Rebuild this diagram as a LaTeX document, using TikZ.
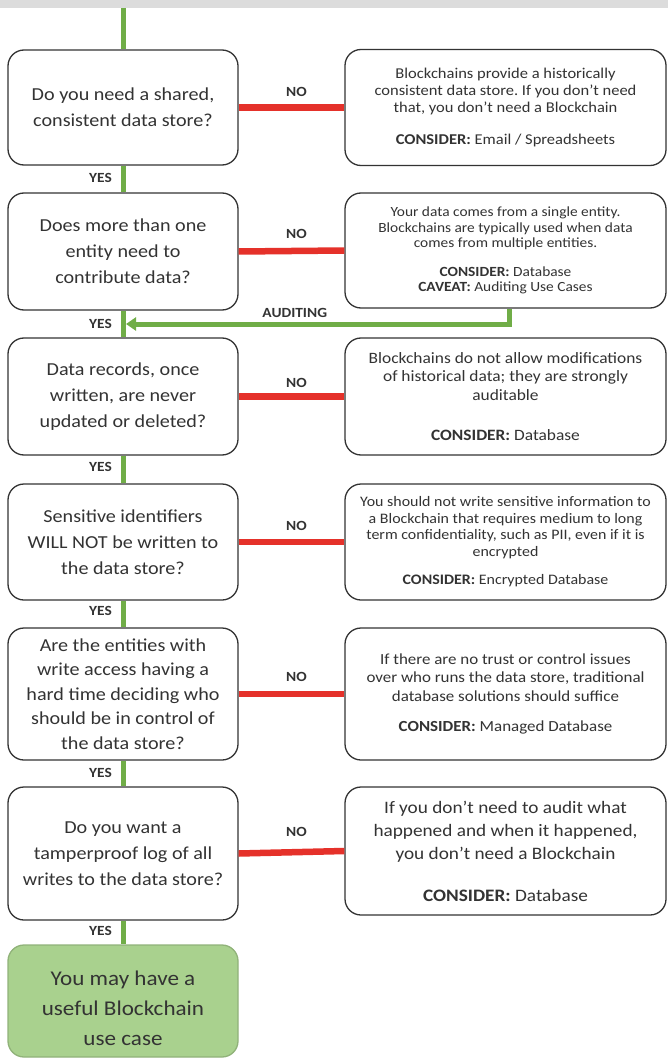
\documentclass[tikz,border=0pt]{standalone}
\usepackage{fontspec}
\setmainfont{Carlito}[FakeStretch=1.1]
\frenchspacing
\usetikzlibrary{arrows.meta}
\usetikzlibrary{calc}

\definecolor{yesgreen}{HTML}{70AD47}
\definecolor{nored}{HTML}{E5312A}
\definecolor{boxline}{HTML}{333333}
\definecolor{txt}{HTML}{333333}
\definecolor{endfill}{HTML}{A9D18E}
\definecolor{topgray}{HTML}{DCDCDC}

\tikzset{
  qbox/.style={draw=boxline, line width=1.3pt, rounded corners=16pt, fill=white, text=txt,
    minimum width=230pt, align=center, inner sep=0pt, font=\fontsize{18.3}{26}\selectfont},
  abox/.style={qbox, minimum width=321pt, font=\fontsize{15}{16.8}\selectfont},
  endbox/.style={qbox, draw=endfill!85!black, fill=endfill, font=\fontsize{21}{30}\selectfont},
  yesline/.style={yesgreen, line width=5pt},
  noline/.style={nored, line width=6.5pt},
  lbl/.style={text=txt, font=\bfseries\fontsize{14}{16}\selectfont, inner sep=1pt},
}

\begin{document}
\begin{tikzpicture}[x=1pt,y=-1pt]
            \useasboundingbox (0,0) rectangle (668,1059);
            \fill [topgray] (0,0) rectangle (668,8);
            \coordinate (top) at (123,8);
            % questions on the left
            \node [qbox, minimum height=115pt] (q1) at (123,107.5) {Do you need a shared,\\consistent data store?};
            \node [qbox, minimum height=117pt] (q2) at (123,251.5) {Does more than one\\entity need to\\contribute data?};
            \node [qbox, minimum height=117pt] (q3) at (123,396.5) {Data records, once\\written, are never\\updated or deleted?};
            \node [qbox, minimum height=116pt] (q4) at (123,542) {Sensitive identifiers\\WILL NOT be written to\\the data store?};
            \node [qbox, minimum height=132pt, font=\fontsize{18.3}{24.5}\selectfont] (q5) at (123,694) {Are the entities with\\write access having a\\hard time deciding who\\should be in control of\\the data store?};
            \node [qbox, minimum height=133pt] (q6) at (123,853.5) {Do you want a\\tamperproof log of all\\writes to the data store?};
            \node [endbox, minimum height=112pt] (yes) at (123,1001) {\rule{0pt}{29pt}You may have a\\useful Blockchain\\use case};
            % answers on the right
            \node [abox, minimum height=116pt] (a1) at (505.5,107.5) {Blockchains provide a historically\\consistent data store. If you don’t need\\that, you don’t need a Blockchain\\[15pt]\textbf{CONSIDER:} Email / Spreadsheets};
            \node [abox, minimum height=115pt, font=\fontsize{14}{15.5}\selectfont] (a2) at (505.5,250.5) {Your data comes from a single entity.\\Blockchains are typically used when data\\comes from multiple entities.\\[13pt]\textbf{CONSIDER:} Database\\\textbf{CAVEAT:} Auditing Use Cases};
            \node [abox, minimum height=117pt, font=\fontsize{15.8}{18.5}\selectfont] (a3) at (505.5,396.5) {Blockchains do not allow modifications\\of historical data; they are strongly\\auditable\\[22pt]\textbf{CONSIDER:} Database};
            \node [abox, minimum height=116pt, font=\fontsize{14.5}{16.5}\selectfont] (a4) at (505.5,542) {You should not write sensitive information to\\a Blockchain that requires medium to long\\term confidentiality, such as PII, even if it is\\encrypted\\[12pt]\textbf{CONSIDER:} Encrypted Database};
            \node [abox, minimum height=132pt, font=\fontsize{15.4}{18.5}\selectfont] (a5) at (505.5,694) {If there are no trust or control issues\\over who runs the data store, traditional\\database solutions should suffice\\[12pt]\textbf{CONSIDER:} Managed Database};
            \node [abox, minimum height=128pt, font=\fontsize{17.5}{23}\selectfont] (a6) at (505.5,851) {If you don’t need to audit what\\happened and when it happened,\\you don’t need a Blockchain\\[19pt]\textbf{CONSIDER:} Database};
            % yes path
            \draw [yesline] (top) -- (q1.north);
            \draw [yesline] (q1.south) -- (q2.north);
            \draw [yesline] (q2.south) -- (q3.north);
            \draw [yesline] (q3.south) -- (q4.north);
            \draw [yesline] (q4.south) -- (q5.north);
            \draw [yesline] (q5.south) -- (q6.north);
            \draw [yesline] (q6.south) -- (yes.north);
            \node [lbl, anchor=east] (y1) at ([xshift=-10pt,yshift=-12pt]q1.south) {YES};
            \node [lbl, anchor=east] (y2) at ([xshift=-10pt,yshift=-13pt]q2.south) {YES};
            \node [lbl, anchor=east] (y3) at ([xshift=-10pt,yshift=-11pt]q3.south) {YES};
            \node [lbl, anchor=east] (y4) at ([xshift=-10pt,yshift=-10pt]q4.south) {YES};
            \node [lbl, anchor=east] (y5) at ([xshift=-10pt,yshift=-12pt]q5.south) {YES};
            \node [lbl, anchor=east] (y6) at ([xshift=-10pt,yshift=-10pt]q6.south) {YES};
            % no path
            \draw [noline] (q1.east) -- node [lbl, above=7pt, xshift=5pt] (n1) {NO} (a1.west);
            \draw [noline] (q2.east) -- node [lbl, above=8pt, xshift=5pt] (n2) {NO} (a2.west);
            \draw [noline] (q3.east) -- node [lbl, above=5pt, xshift=5pt] (n3) {NO} (a3.west);
            \draw [noline] (q4.east) -- node [lbl, above=7pt, xshift=5pt] (n4) {NO} (a4.west);
            \draw [noline] (q5.east) -- node [lbl, above=8pt, xshift=5pt] (n5) {NO} (a5.west);
            \draw [noline] (q6.east) -- node [lbl, above=11pt, xshift=5pt] (n6) {NO} (a6.west);
            % auditing back to the trunk
            \coordinate (aud) at ($(q2.south)!0.5!(q3.north)+(3,0)$);
            \draw [yesline, -{Triangle[length=10pt,width=13pt]}] ([xshift=4pt]a2.south) |- node [lbl, above=3pt, pos=0.78] (audit) {AUDITING} (aud);
\end{tikzpicture}
\end{document}
